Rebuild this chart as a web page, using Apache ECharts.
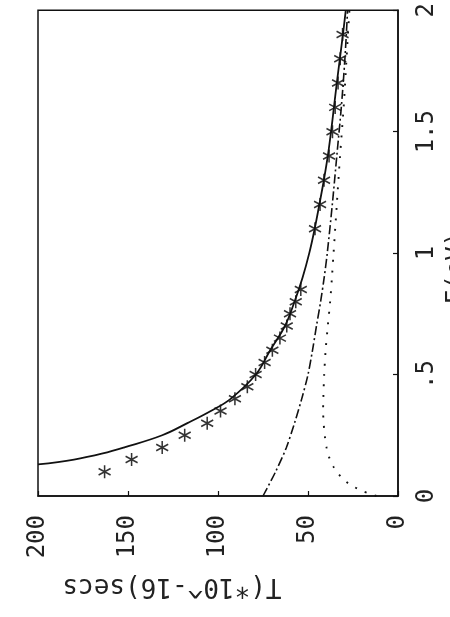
<!DOCTYPE html>
<html>
<head>
<meta charset="utf-8">
<script src="https://cdn.jsdelivr.net/npm/echarts@6/dist/echarts.min.js"></script>
<style>
html, body { margin: 0; padding: 0; background: #fff; }
#main { width: 450px; height: 617px; }
</style>
</head>
<body>
<div id="main"></div>
<script>
// plot is printed rotated: T runs along the bottom (200 at left), E up the right side
var tTicks = ['0', '50', '100', '150', '200'];
var eTicks = ['0', '.5', '1', '1.5', '2'];

// solid curve
var solidE = [0.13, 0.15, 0.175, 0.2, 0.25, 0.3, 0.35, 0.4, 0.5, 0.6, 0.7, 0.8, 0.9, 1.0, 1.1, 1.2, 1.3, 1.4, 1.5, 1.6, 1.7, 1.8, 1.9, 2.0];
var solidT = [200, 180, 164, 152, 131, 117, 104, 93, 79, 71, 62.8, 57.5, 53, 49.3, 46.3, 43.7, 41.2, 39, 37.2, 35.6, 34, 32.3, 30.6, 29];

// asterisks
var starE = [0.1, 0.15, 0.2, 0.25, 0.3, 0.35, 0.4, 0.45, 0.5, 0.55, 0.6, 0.65, 0.7, 0.75, 0.8, 0.85,
             1.1, 1.2, 1.3, 1.4, 1.5, 1.6, 1.7, 1.8, 1.9];
var starT = [163, 148, 131, 118.5, 106, 98.6, 90.6, 83.7, 79.1, 74.1, 69.8, 65.6, 61.8, 60, 56.8, 54,
             46.1, 43.3, 41.1, 38.3, 36.4, 34.9, 33.3, 32.1, 30.8];

// dash-dot curve
var dashE = [0, 0.1, 0.2, 0.3, 0.4, 0.5, 0.6, 0.7, 0.8, 0.9, 1.0, 1.2, 1.4, 1.6, 1.8, 2.0];
var dashT = [75, 68, 62, 57.5, 53.5, 50, 47.5, 45.3, 43, 41, 39.3, 36.5, 34, 31.5, 29.5, 28];

// dotted curve
var dotE = [0, 0.02, 0.04, 0.06, 0.09, 0.12, 0.16, 0.2, 0.25, 0.3, 0.35, 0.4, 0.5, 0.6, 0.7, 0.8, 0.9, 1.0, 1.2, 1.4, 1.6, 1.8, 2.0];
var dotT = [12, 19.5, 25, 29, 33, 35.8, 38.3, 39.7, 40.7, 41.3, 41.6, 41.5, 41, 40.2, 39, 37.7, 36.7, 35.8, 34, 32.2, 30.2, 28.6, 27];

function pairs(T, E){
	var out = [];
	for(var i = 0; i < E.length; i++){
		out.push([T[i], E[i]]);
	}
	return out;
}

var ink = '#111';
var font = 'DejaVu Sans Mono';

var chart = echarts.init(document.getElementById('main'));
var option = {
	backgroundColor: '#fff',
	animation: false,
	grid: {
		left: 38, right: 52, top: 5, bottom: 121,
		show: true, borderColor: ink, borderWidth: 1.5
	},
	xAxis: {
		type: 'value',
		min: 0, max: 200, interval: 50,
		inverse: true,
		axisLine: { lineStyle: { color: ink, width: 1.5 } },
		axisTick: { inside: true, length: 5, lineStyle: { color: ink, width: 1.2 } },
		splitLine: { show: false },
		axisLabel: {
			rotate: 90, margin: 19,
			fontFamily: font, fontSize: 24, color: '#222',
			formatter: function(v){ return tTicks[Math.round(v / 50)]; }
		}
	},
	yAxis: {
		type: 'value',
		position: 'right',
		min: 0, max: 2, interval: 0.5,
		axisLine: { lineStyle: { color: ink, width: 1.5 } },
		axisTick: { inside: true, length: 5, lineStyle: { color: ink, width: 1.2 } },
		splitLine: { show: false },
		axisLabel: {
			rotate: 90, margin: 17,
			fontFamily: font, fontSize: 24, color: '#222',
			formatter: function(v){ return eTicks[Math.round(v / 0.5)]; }
		}
	},
	graphic: [
		{
			type: 'text', x: 172, y: 586, rotation: Math.PI,
			style: {
				text: 'T(*10^-16)secs', fill: '#222',
				font: '26px "DejaVu Sans Mono"',
				textAlign: 'center', textVerticalAlign: 'middle'
			}
		},
		{
			type: 'text', x: 457, y: 268, rotation: Math.PI / 2,
			style: {
				text: 'E(eV)', fill: '#222',
				font: '24px "DejaVu Sans Mono"',
				textAlign: 'center', textVerticalAlign: 'middle'
			}
		}
	],
	series: [
		{
			name: 'solid', type: 'line', showSymbol: false, smooth: 0.4,
			data: pairs(solidT, solidE),
			lineStyle: { color: ink, width: 1.8 }
		},
		{
			name: 'dashdot', type: 'line', showSymbol: false, smooth: 0.3,
			data: pairs(dashT, dashE),
			lineStyle: { color: ink, width: 1.6, type: [9, 3, 2, 3] }
		},
		{
			name: 'dotted', type: 'line', showSymbol: false, smooth: 0.3,
			data: pairs(dotT, dotE),
			lineStyle: { color: ink, width: 1.9, type: [1.9, 8.5] }
		},
		{
			name: 'stars', type: 'scatter',
			symbol: 'path://M0,-1L0,1M-0.87,-0.5L0.87,0.5M-0.87,0.5L0.87,-0.5',
			symbolSize: [12, 13],
			data: pairs(starT, starE),
			itemStyle: { color: 'rgba(0,0,0,0)', borderColor: '#000', borderWidth: 1.6 }
		}
	]
};
chart.setOption(option);
</script>
</body>
</html>
